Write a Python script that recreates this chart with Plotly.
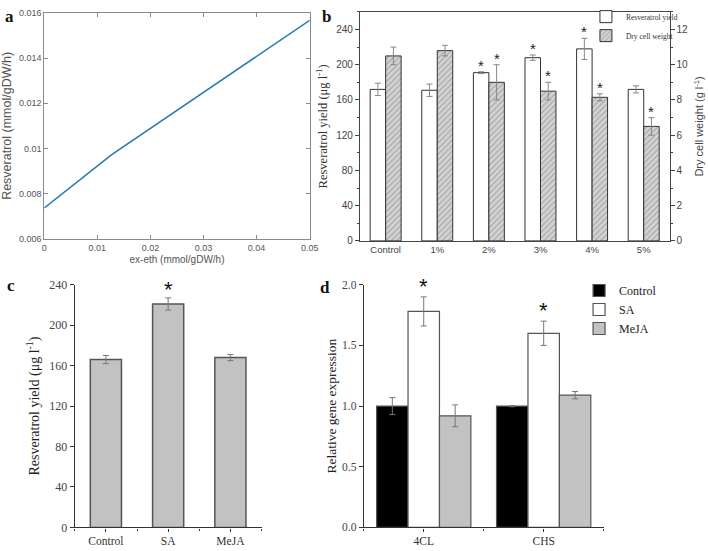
import plotly.graph_objects as go

# ---------------- Data ----------------
# Panel a
eth_flux = [0, 0.0127, 0.05]
resv_flux = [0.00737, 0.00973, 0.01567]

# Panel b
conc_labels = ["Control", "1%", "2%", "3%", "4%", "5%"]
resv_yield_b = [172, 171, 191, 208, 218, 172]
resv_err_b = [7, 7, 1, 3, 12, 4]
dcw_b = [10.5, 10.8, 9.0, 8.5, 8.15, 6.5]
dcw_err_b = [0.5, 0.3, 1.0, 0.5, 0.2, 0.5]
resv_sig_b = [False, False, True, True, True, False]
dcw_sig_b = [False, False, True, True, True, True]

# Panel c
elicitors = ["Control", "SA", "MeJA"]
resv_yield_c = [166, 221, 168]
resv_err_c = [4, 6, 3]
sig_c = [False, True, False]

# Panel d
genes = ["4CL", "CHS"]
expr_control = [1.0, 1.0]
expr_control_err = [0.07, 0.005]
expr_sa = [1.78, 1.60]
expr_sa_err = [0.12, 0.10]
expr_meja = [0.92, 1.09]
expr_meja_err = [0.09, 0.03]
sig_d_sa = [True, True]

W, H = 708, 551
def px(x0, x1):
    return [x0 / W, x1 / W]
def py(top, bottom):
    return [1 - bottom / H, 1 - top / H]

SANS = "Liberation Sans, Arial"
SERIF = "Liberation Serif, Times New Roman"

fig = go.Figure()

# ---------------- Panel a ----------------
fig.add_trace(go.Scatter(x=eth_flux, y=resv_flux, mode="lines",
                         line=dict(color="#2b7bb0", width=1.6),
                         xaxis="x", yaxis="y", showlegend=False))

# ---------------- Panel b ----------------
bw = 0.30
fig.add_trace(go.Bar(x=conc_labels, y=resv_yield_b, name="Resveratrol yield",
                     width=bw, offset=-bw,
                     marker=dict(color="white", line=dict(color="#333", width=1)),
                     error_y=dict(type="data", array=resv_err_b, color="#888", thickness=1, width=3),
                     xaxis="x2", yaxis="y2", legend="legend"))
fig.add_trace(go.Bar(x=conc_labels, y=dcw_b, name="Dry cell weight",
                     width=bw, offset=0,
                     marker=dict(color="#c8c8c8", line=dict(color="#333", width=1),
                                 pattern=dict(shape="/", fgcolor="#7a7a7a", bgcolor="#d4d4d4",
                                              size=4, solidity=0.3)),
                     error_y=dict(type="data", array=dcw_err_b, color="#888", thickness=1, width=3),
                     xaxis="x2", yaxis="y3", legend="legend"))

# ---------------- Panel c ----------------
xc = list(range(len(elicitors)))
fig.add_trace(go.Bar(x=xc, y=resv_yield_c, width=0.5,
                     marker=dict(color="#c2c2c2", line=dict(color="#555", width=1.5)),
                     error_y=dict(type="data", array=resv_err_c, color="#777", thickness=1, width=3),
                     xaxis="x3", yaxis="y4", showlegend=False))

# ---------------- Panel d ----------------
xd = list(range(len(genes)))
dw = 0.262
series_d = [("Control", expr_control, expr_control_err, "black"),
            ("SA", expr_sa, expr_sa_err, "white"),
            ("MeJA", expr_meja, expr_meja_err, "#c2c2c2")]
for i, (nm, vals, errs, col) in enumerate(series_d):
    fig.add_trace(go.Bar(x=xd, y=vals, name=nm, width=dw, offset=-1.5 * dw + i * dw,
                         marker=dict(color=col, line=dict(color="#555", width=1.2)),
                         error_y=dict(type="data", array=errs, color="#777", thickness=1, width=3),
                         xaxis="x4", yaxis="y5", legend="legend2"))

# ---------------- Stars ----------------
ann = []
for i, c in enumerate(conc_labels):
    if resv_sig_b[i]:
        ann.append(dict(x=i - bw / 2, y=resv_yield_b[i] + resv_err_b[i], xref="x2", yref="y2",
                        text="*", showarrow=False, yanchor="bottom", yshift=-4,
                        font=dict(family=SANS, size=15, color="#222")))
    if dcw_sig_b[i]:
        ann.append(dict(x=i + bw / 2, y=dcw_b[i] + dcw_err_b[i], xref="x2", yref="y3",
                        text="*", showarrow=False, yanchor="bottom", yshift=-4,
                        font=dict(family=SANS, size=15, color="#222")))
for i in xc:
    if sig_c[i]:
        ann.append(dict(x=i, y=resv_yield_c[i] + resv_err_c[i], xref="x3", yref="y4",
                        text="*", showarrow=False, yanchor="bottom", yshift=-6,
                        font=dict(family=SANS, size=22, color="#111")))
for i in xd:
    if sig_d_sa[i]:
        ann.append(dict(x=i, y=expr_sa[i] + expr_sa_err[i], xref="x4", yref="y5",
                        text="*", showarrow=False, yanchor="bottom", yshift=-4,
                        font=dict(family=SANS, size=22, color="#111")))

# panel letters
for t, x, y in [("a", 7, 10), ("b", 329, 10), ("c", 8, 286), ("d", 328, 288)]:
    ann.append(dict(x=x / W, y=1 - y / H, xref="paper", yref="paper", text="<b>%s</b>" % t,
                    showarrow=False, xanchor="center", yanchor="middle",
                    font=dict(family=SERIF, size=17, color="#111")))

fig.update_layout(
    width=W, height=H, margin=dict(l=0, r=0, t=0, b=0),
    paper_bgcolor="white", plot_bgcolor="white",
    barmode="overlay",
    annotations=ann,
    # Panel a
    xaxis=dict(domain=px(42, 312), anchor="y", range=[0, 0.05], dtick=0.01,
               showline=True, mirror="ticks", linecolor="#8a8a8a", linewidth=1,
               ticks="inside", ticklen=4, tickcolor="#8a8a8a", showgrid=False, zeroline=False,
               tickfont=dict(family=SANS, size=9, color="#555"),
               title=dict(text="ex-eth (mmol/gDW/h)", font=dict(family=SANS, size=10, color="#555"), standoff=4)),
    yaxis=dict(domain=py(6, 238), anchor="x", range=[0.006, 0.016], dtick=0.002,
               showline=True, mirror="ticks", linecolor="#8a8a8a", linewidth=1,
               ticks="inside", ticklen=4, tickcolor="#8a8a8a", showgrid=False, zeroline=False,
               tickfont=dict(family=SANS, size=9, color="#555"),
               title=dict(text="Resveratrol (mmol/gDW/h)", font=dict(family=SANS, size=12.5, color="#555"), standoff=5)),
    # Panel b
    xaxis2=dict(domain=px(363, 678), anchor="y2", range=[-0.5, 5.5], type="category",
                showline=True, mirror=True, linecolor="#444", linewidth=1, ticks="",
                showgrid=False, zeroline=False,
                tickfont=dict(family=SANS, size=9.5, color="#444")),
    yaxis2=dict(domain=py(5, 240), anchor="x2", range=[0, 260], dtick=40,
                showline=True, linecolor="#444", linewidth=1, ticks="outside", ticklen=4,
                tickcolor="#444", showgrid=False, zeroline=False,
                minor=dict(ticks="outside", ticklen=2, dtick=20, tickcolor="#444"),
                tickfont=dict(family=SANS, size=10, color="#444"),
                title=dict(text="Resveratrol yield (μg l<sup>-1</sup>)", font=dict(family=SERIF, size=12.5, color="#333"), standoff=5)),
    yaxis3=dict(overlaying="y2", side="right", anchor="x2", range=[0, 13], dtick=2,
                showline=True, linecolor="#444", linewidth=1, ticks="outside", ticklen=4,
                tickcolor="#444", showgrid=False, zeroline=False,
                minor=dict(ticks="outside", ticklen=2, dtick=1, tickcolor="#444"),
                tickfont=dict(family=SANS, size=10, color="#444"),
                title=dict(text="Dry cell weight (g l<sup>-1</sup>)", font=dict(family=SANS, size=11, color="#444"), standoff=8)),
    # Panel c
    xaxis3=dict(domain=px(73, 263), anchor="y4", range=[-0.5, 2.5],
                tickvals=xc, ticktext=elicitors,
                showline=True, linecolor="#333", linewidth=1.2, ticks="outside", ticklen=3,
                tickcolor="#333", showgrid=False, zeroline=False,
                minor=dict(ticks="outside", ticklen=2, tickvals=[-0.5, 0.5, 1.5, 2.5], tickcolor="#333"),
                tickfont=dict(family=SERIF, size=11.5, color="#333")),
    yaxis4=dict(domain=py(285, 534), anchor="x3", range=[0, 240], dtick=40,
                showline=True, linecolor="#333", linewidth=1.2, ticks="outside", ticklen=4,
                tickcolor="#333", showgrid=False, zeroline=False,
                tickfont=dict(family=SERIF, size=12, color="#444"),
                title=dict(text="Resveratrol yield (μg l<sup>-1</sup>)", font=dict(family=SERIF, size=14, color="#222"), standoff=6)),
    # Panel d
    xaxis4=dict(domain=px(367, 611), anchor="y5", range=[-0.5, 1.5],
                tickvals=xd, ticktext=genes,
                showline=True, linecolor="#333", linewidth=1.2, ticks="outside", ticklen=3,
                tickcolor="#333", showgrid=False, zeroline=False,
                minor=dict(ticks="outside", ticklen=2, tickvals=[-0.5, 0.5, 1.5], tickcolor="#333"),
                tickfont=dict(family=SERIF, size=11.5, color="#333")),
    yaxis5=dict(domain=py(285, 534), anchor="x4", range=[0, 2], dtick=0.5, tickformat=".1f",
                showline=True, linecolor="#333", linewidth=1.2, ticks="outside", ticklen=4,
                tickcolor="#333", showgrid=False, zeroline=False,
                tickfont=dict(family=SERIF, size=11.5, color="#444"),
                title=dict(text="Relative gene expression", font=dict(family=SERIF, size=13.5, color="#222"), standoff=2)),
    legend=dict(x=593 / W, y=1 + 5 / H, xanchor="left", yanchor="top", bgcolor="rgba(0,0,0,0)",
                font=dict(family=SERIF, size=7.5, color="#333"), tracegroupgap=0, itemwidth=30),
    legend2=dict(x=586 / W, y=1 - 276 / H, xanchor="left", yanchor="top", bgcolor="rgba(0,0,0,0)",
                 font=dict(family=SERIF, size=12, color="#222"), tracegroupgap=0, itemwidth=30),
)

fig.write_html("out.html", config={"displayModeBar": False},
               post_script="document.body.style.margin='0px';document.body.style.overflow='hidden';")
